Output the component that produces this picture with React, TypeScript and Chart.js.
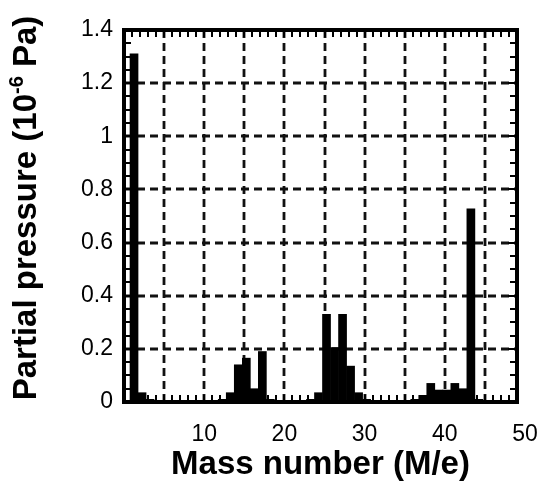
import { useEffect, useRef } from "react";
import { Chart, registerables } from "chart.js";

Chart.register(...registerables);

// Mass numbers (M/e) and the partial pressure read for each one (10^-6 Pa)
const massNumbers = [
  1, 2, 3, 4, 5, 6, 7, 8, 9, 10,
  11, 12, 13, 14, 15, 16, 17, 18, 19, 20,
  21, 22, 23, 24, 25, 26, 27, 28, 29, 30,
  31, 32, 33, 34, 35, 36, 37, 38, 39, 40,
  41, 42, 43, 44, 45, 46, 47, 48, 49,
];
const partialPressure = [
  0, 1.31, 0.035, 0.01, 0, 0, 0, 0, 0, 0,
  0, 0.005, 0.01, 0.035, 0.14, 0.165, 0.05, 0.19, 0.01, 0,
  0, 0, 0, 0.01, 0.035, 0.33, 0.205, 0.33, 0.135, 0.035,
  0.01, 0.005, 0, 0, 0, 0, 0.01, 0.025, 0.07, 0.045,
  0.045, 0.07, 0.05, 0.727, 0.01, 0, 0, 0, 0,
];
const xTickValues = [10, 20, 30, 40, 50];
const xGridValues = [5, 10, 15, 20, 25, 30, 35, 40, 45];
const yTickValues = [0, 0.2, 0.4, 0.6, 0.8, 1, 1.2, 1.4];

const xTitle = "Mass number (M/e)";
const yTitleMain = "Partial pressure (10";
const yTitleSup = "-6";
const yTitleEnd = " Pa)";

// the original histogram draws each mass slightly left of its integer value
const BAR_SHIFT = -0.75;

const FONT = "'Liberation Sans', Arial, Helvetica, sans-serif";

const framePlugin = {
  id: "framePlugin",
  beforeDatasetsDraw(chart: any) {
    const { ctx, chartArea, scales } = chart;
    const x = scales.x;
    const y = scales.y;
    ctx.save();
    ctx.strokeStyle = "#111";
    ctx.lineWidth = 2.8;
    ctx.setLineDash([8, 5]);
    for (const v of xGridValues) {
      const px = Math.round(x.getPixelForValue(v));
      ctx.beginPath();
      ctx.moveTo(px, chartArea.top);
      ctx.lineTo(px, chartArea.bottom);
      ctx.stroke();
    }
    for (const v of yTickValues) {
      if (v === 0 || v === 1.4) continue;
      const py = Math.round(y.getPixelForValue(v));
      ctx.beginPath();
      ctx.moveTo(chartArea.left, py);
      ctx.lineTo(chartArea.right, py);
      ctx.stroke();
    }
    ctx.restore();
  },
  afterDatasetsDraw(chart: any) {
    const { ctx, chartArea, scales } = chart;
    const x = scales.x;
    const y = scales.y;
    const { left, right, top, bottom } = chartArea;
    ctx.save();
    ctx.strokeStyle = "#000";
    ctx.setLineDash([]);
    // minor ticks, inward on all sides
    ctx.lineWidth = 2;
    const tl = 7;
    for (let v = 1; v < 49; v++) {
      const px = Math.round(x.getPixelForValue(v));
      ctx.beginPath();
      ctx.moveTo(px, bottom);
      ctx.lineTo(px, bottom - tl);
      ctx.moveTo(px, top);
      ctx.lineTo(px, top + tl);
      ctx.stroke();
    }
    for (let i = 1; i < 28; i++) {
      const v = i * 0.05;
      const py = Math.round(y.getPixelForValue(v));
      const len = i % 4 === 0 ? 9 : tl;
      ctx.beginPath();
      ctx.moveTo(left, py);
      ctx.lineTo(left + len, py);
      ctx.moveTo(right, py);
      ctx.lineTo(right - len, py);
      ctx.stroke();
    }
    // frame
    ctx.lineWidth = 4;
    ctx.strokeRect(left, top, right - left, bottom - top);
    ctx.restore();
  },
  afterDraw(chart: any) {
    const { ctx, chartArea } = chart;
    ctx.save();
    ctx.fillStyle = "#000";
    // x title
    ctx.font = `bold 33px ${FONT}`;
    ctx.textAlign = "center";
    ctx.textBaseline = "alphabetic";
    ctx.fillText(xTitle, (chartArea.left + chartArea.right) / 2, 474);
    // y title with superscript
    const mainFont = `bold 33px ${FONT}`;
    const supFont = `bold 20px ${FONT}`;
    ctx.font = mainFont;
    const w1 = ctx.measureText(yTitleMain).width;
    const w3 = ctx.measureText(yTitleEnd).width;
    ctx.font = supFont;
    const w2 = ctx.measureText(yTitleSup).width;
    const total = w1 + w2 + w3;
    ctx.translate(36, 208);
    ctx.rotate(-Math.PI / 2);
    ctx.textAlign = "left";
    let cx = -total / 2;
    ctx.font = mainFont;
    ctx.fillText(yTitleMain, cx, 0);
    cx += w1;
    ctx.font = supFont;
    ctx.fillText(yTitleSup, cx, -13);
    cx += w2;
    ctx.font = mainFont;
    ctx.fillText(yTitleEnd, cx, 0);
    ctx.restore();
  },
};

export default function App() {
  const canvasRef = useRef<HTMLCanvasElement | null>(null);

  useEffect(() => {
    document.body.style.margin = "0";
    const canvas = canvasRef.current;
    if (!canvas) return;
    const points = massNumbers.map((m, i) => ({ x: m + BAR_SHIFT, y: partialPressure[i] }));
    const chart = new Chart(canvas, {
      type: "bar",
      data: {
        datasets: [
          {
            data: points as any,
            backgroundColor: "#000",
            borderWidth: 0,
            barPercentage: 1,
            categoryPercentage: 1,
          },
        ],
      },
      options: {
        animation: false,
        responsive: false,
        devicePixelRatio: 1,
        layout: { padding: { top: 30, right: 23, left: 0, bottom: 0 } },
        plugins: { legend: { display: false }, tooltip: { enabled: false }, title: { display: false } },
        scales: {
          x: {
            type: "linear",
            offset: false,
            min: 0,
            max: 49,
            grid: { display: false, offset: false },
            border: { display: false },
            afterBuildTicks: (scale: any) => {
              scale.ticks = xTickValues.map((v) => ({ value: v }));
            },
            afterFit: (scale: any) => {
              scale.height = 84;
              scale.paddingLeft = 0;
              scale.paddingRight = 0;
            },
            ticks: {
              autoSkip: false,
              maxRotation: 0,
              padding: 11,
              color: "#000",
              font: { family: FONT, size: 23 },
              callback: (v: any) => String(v),
            },
          },
          y: {
            type: "linear",
            min: 0,
            max: 1.4,
            grid: { display: false },
            border: { display: false },
            afterBuildTicks: (scale: any) => {
              scale.ticks = yTickValues.map((v) => ({ value: v }));
            },
            afterFit: (scale: any) => {
              scale.width = 124;
              scale.paddingTop = 0;
              scale.paddingBottom = 0;
            },
            ticks: {
              autoSkip: false,
              padding: 3,
              color: "#000",
              font: { family: FONT, size: 23 },
              callback: (v: any) => String(Math.round(Number(v) * 10) / 10),
            },
          },
        },
      },
      plugins: [framePlugin],
    });
    return () => chart.destroy();
  }, []);

  return (
    <div style={{ width: 540, height: 486, background: "#fff" }}>
      <canvas ref={canvasRef} width={540} height={486} />
    </div>
  );
}
